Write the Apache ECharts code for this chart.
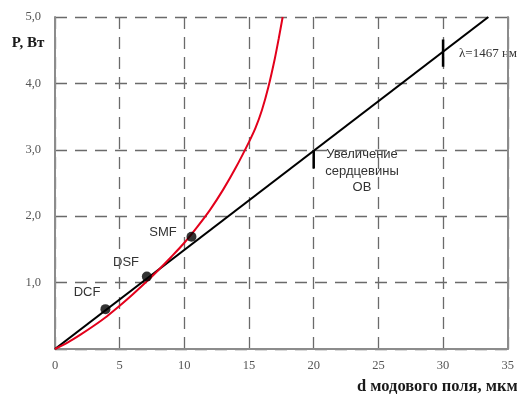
<!DOCTYPE html>
<html>
<head>
<meta charset="utf-8">
<script src="https://cdn.jsdelivr.net/npm/echarts@6/dist/echarts.min.js"></script>
<style>
  html, body { margin: 0; padding: 0; background: #fff; }
  #chart { width: 517px; height: 394px; }
</style>
</head>
<body>
<div id="chart"></div>
<script>
// Mode field diameter (µm) vs. power (W)
const xTicks = [0, 5, 10, 15, 20, 25, 30, 35];
const yTicks = [0, 1, 2, 3, 4, 5];

// Red curve
const curveD = [0, 1, 2, 3, 4, 5, 6, 7, 8, 9, 10, 11, 12, 13, 14, 15, 15.5, 16, 16.5, 17, 17.3, 17.6];
const curveP = [0, 0.10, 0.22, 0.35, 0.49, 0.65, 0.82, 1.00, 1.19, 1.39, 1.60, 1.84, 2.10, 2.40, 2.74, 3.12, 3.33, 3.60, 3.95, 4.38, 4.68, 5.00];

// Straight line
const lineD = [0, 33.5];
const lineP = [0, 5.0];

// Fibre types
const fibreNames = ['DCF', 'DSF', 'SMF'];
const fibreD = [3.9, 7.1, 10.55];
const fibreP = [0.60, 1.09, 1.69];

// Short vertical marks on the straight line
const markAD = [20, 20];
const markAP = [3.0, 2.72];
const markBD = [30, 30];
const markBP = [4.66, 4.25];

const zip = (a, b) => a.map((v, i) => [v, b[i]]);

const serif = '"Liberation Serif", "Times New Roman", serif';
const sans = '"Liberation Sans", Arial, sans-serif';
const gridColor = '#6a6a6a';
const frameColor = '#8c8c8c';

const chart = echarts.init(document.getElementById('chart'), null, { renderer: 'canvas' });

chart.setOption({
  animation: false,
  backgroundColor: '#fff',
  grid: { left: 55, right: 7, top: 17, bottom: 45 },
  xAxis: {
    type: 'value', min: xTicks[0], max: xTicks[xTicks.length - 1], interval: 5,
    axisLine: { show: true, lineStyle: { color: frameColor, width: 2 } },
    axisTick: { show: false },
    axisLabel: { margin: 10, fontFamily: serif, fontSize: 12.5, color: '#555',
      formatter: v => String(v) },
    splitLine: { show: true, lineStyle: { color: gridColor, width: 1.3, type: [12, 8] } }
  },
  yAxis: [{
    type: 'value', min: yTicks[0], max: yTicks[yTicks.length - 1], interval: 1,
    axisLine: { show: true, lineStyle: { color: frameColor, width: 2 } },
    axisTick: { show: false },
    axisLabel: { margin: 14, fontFamily: serif, fontSize: 12.5, color: '#555',
      formatter: v => v === 0 ? '' : v.toFixed(1).replace('.', ',') },
    splitLine: { show: true, lineStyle: { color: gridColor, width: 1.3, type: [12, 8] } }
  }, {
    type: 'value', position: 'right', min: 0, max: 5, interval: 1,
    axisLine: { show: true, onZero: false, lineStyle: { color: frameColor, width: 2 } },
    axisTick: { show: false }, axisLabel: { show: false }, splitLine: { show: false }
  }],
  series: [
    {
      type: 'line', data: zip(lineD, lineP), symbol: 'none',
      lineStyle: { color: '#000', width: 2.2 }, z: 3
    },
    {
      type: 'line', data: zip(curveD, curveP), symbol: 'none', smooth: 0.3,
      lineStyle: { color: '#e3001b', width: 2 }, z: 4
    },
    {
      type: 'line', data: zip(markAD, markAP), symbol: 'none',
      lineStyle: { color: '#000', width: 2.5 }, z: 5
    },
    {
      type: 'line', data: zip(markBD, markBP), symbol: 'none',
      lineStyle: { color: '#000', width: 2.5 }, z: 5
    },
    {
      type: 'scatter', data: zip(fibreD, fibreP), symbol: 'circle', symbolSize: 10,
      itemStyle: { color: '#000' }, z: 6
    }
  ],
  graphic: [
    { type: 'text', x: 28, y: 43, style: { text: 'P, Вт', font: 'bold 15px ' + serif, fill: '#1a1a1a', align: 'center', verticalAlign: 'middle' } },
    { type: 'text', x: 357, y: 387, style: { text: 'd модового поля, мкм', font: 'bold 16.5px ' + serif, fill: '#1a1a1a', align: 'left', verticalAlign: 'middle' } },
    { type: 'text', x: 87, y: 292, style: { text: fibreNames[0], font: '13px ' + sans, fill: '#333', align: 'center', verticalAlign: 'middle' } },
    { type: 'text', x: 126, y: 262, style: { text: fibreNames[1], font: '13px ' + sans, fill: '#333', align: 'center', verticalAlign: 'middle' } },
    { type: 'text', x: 163, y: 232, style: { text: fibreNames[2], font: '13px ' + sans, fill: '#333', align: 'center', verticalAlign: 'middle' } },
    { type: 'text', x: 362, y: 171, style: { text: 'Увеличение\nсердцевины\nОВ', font: '13px ' + sans, lineHeight: 16.5, fill: '#333', align: 'center', verticalAlign: 'middle' } },
    { type: 'text', x: 459, y: 54, style: { text: 'λ=1467 нм', font: '13px ' + serif, fill: '#333', align: 'left', verticalAlign: 'middle' } }
  ]
});
</script>
</body>
</html>
